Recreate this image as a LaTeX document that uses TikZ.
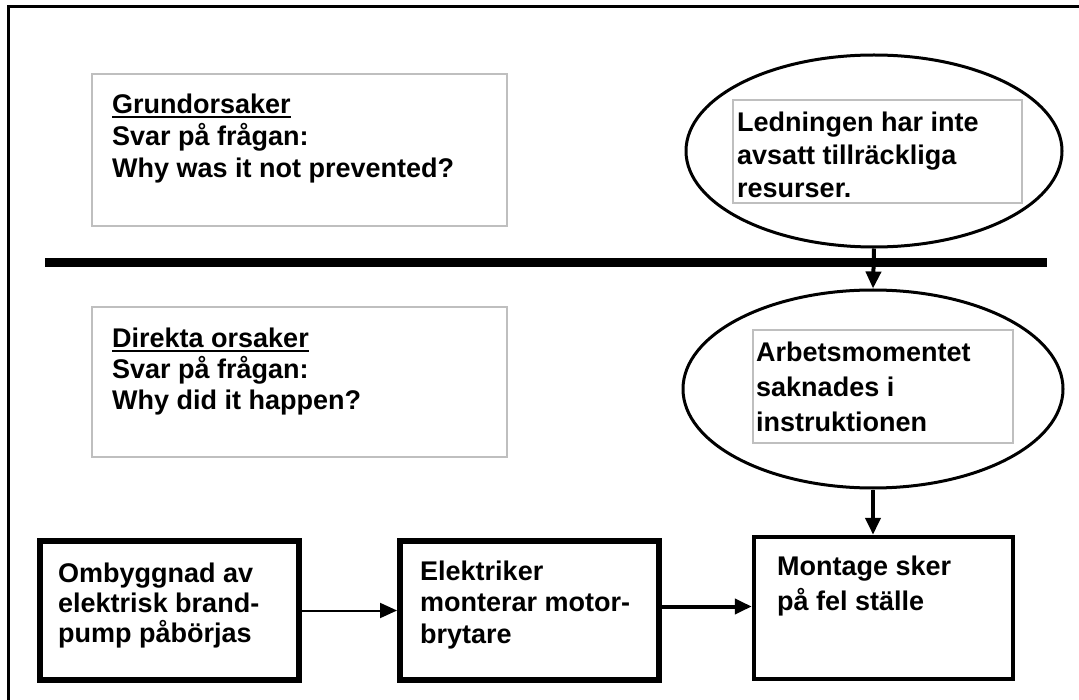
\documentclass[tikz,border=0pt]{standalone}
\usepackage{fontspec}
\setmainfont{Liberation Sans}
\usetikzlibrary{arrows.meta,shapes.geometric}
\newcommand{\myul}[1]{\leavevmode\setbox0\hbox{#1}\rlap{\rule[-4pt]{\wd0}{2.2pt}}\box0}
\newcommand{\txt}[3]{\parbox[t]{#1}{\raggedright\fontsize{27}{#2}\selectfont\bfseries #3}}
\tikzset{
  graybox/.style={draw=black!25, line width=1.5pt, rectangle, inner sep=0pt},
  innerbox/.style={draw=black!25, line width=1.2pt, rectangle, inner sep=0pt},
  oval/.style={draw, ellipse, line width=3pt, inner sep=0pt},
  stepbox/.style={draw, rectangle, line width=6pt, inner sep=0pt, minimum width=259pt},
  txtlabel/.style={anchor=base west, inner sep=0pt},
  arr/.style={line width=4pt, -{Triangle[length=17pt,width=15pt]}},
  thinarr/.style={line width=2pt, -{Triangle[length=17pt,width=15pt]}}
}
\begin{document}
\begin{tikzpicture}[x=1pt,y=-1pt]
\useasboundingbox (0,0) rectangle (1079,700);
% outer frame (left and top edges)
\draw[line width=3pt] (8,700) -- (8,7) -- (1079,7);
% info boxes
\node[graybox, minimum width=415pt, minimum height=152pt] (g1) at (299.5,150) {};
\node[graybox, minimum width=415pt, minimum height=150pt] (g2) at (299.5,382) {};
\node[txtlabel] (g1t) at (112,114) {\txt{380pt}{32}{\myul{Grundorsaker}\\Svar på frågan:\\Why was it not prevented?}};
\node[txtlabel] (g2t) at (112,348) {\txt{380pt}{31}{\myul{Direkta orsaker}\\Svar på frågan:\\Why did it happen?}};
% separator
\draw[line width=9pt] (45,263) coordinate (sl) -- (1047,263) coordinate (sr);
% ellipses
\node[oval, minimum width=376pt, minimum height=192pt] (e1) at (874,151) {};
\node[innerbox, minimum width=289pt, minimum height=103pt] (i1) at (877.5,151.5) {};
\node[txtlabel] (e1t) at (737,132) {\txt{300pt}{33}{Ledningen har inte\\avsatt tillräckliga\\resurser.}};
\node[oval, minimum width=380pt, minimum height=198pt] (e2) at (873,389) {};
\node[innerbox, minimum width=260pt, minimum height=113pt] (i2) at (883,386.5) {};
\node[txtlabel] (e2t) at (756,362) {\txt{300pt}{35}{Arbetsmomentet\\saknades i\\instruktionen}};
% bottom boxes
\node[stepbox, minimum height=139pt] (b1) at (169.5,610.5) {};
\node[stepbox, minimum height=139pt] (b2) at (529.5,610.5) {};
\node[stepbox, line width=4.5pt, minimum height=142pt] (b3) at (883.5,608) {};
\node[txtlabel] (b1t) at (58,582) {\txt{300pt}{30}{Ombyggnad av\\elektrisk brand-\\pump påbörjas}};
\node[txtlabel] (b2t) at (420,580) {\txt{300pt}{31.5}{Elektriker\\monterar motor-\\brytare}};
\node[txtlabel] (b3t) at (777,575) {\txt{300pt}{35}{Montage sker\\på fel ställe}};
% connectors
\draw[arr] (e1.south) -- (e2.north);
\draw[arr] (e2.south) -- (e2.south |- b3.north);
\draw[thinarr] (b1.east) -- (b2.west);
\draw[arr] ([yshift=4pt]b2.east) -- ([yshift=4pt]b2.east -| b3.west);
\end{tikzpicture}
\end{document}
